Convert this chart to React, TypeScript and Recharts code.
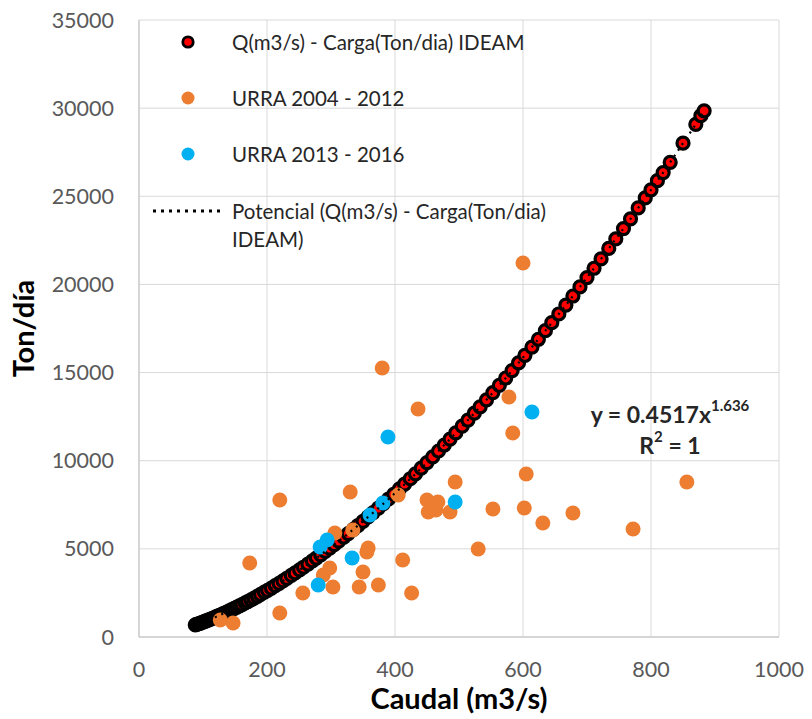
import { ScatterChart, Scatter, XAxis, YAxis, CartesianGrid } from 'recharts'

// Q(m3/s) - Carga(Ton/dia) IDEAM
const ideamQ = [
  88, 90, 92, 95, 97, 100, 103, 105, 108, 111, 114, 117, 120, 123, 126, 130, 133, 137, 141, 145,
  149, 153, 157, 161, 166, 170, 175, 180, 185, 190, 196, 201, 207, 213, 219, 225, 231, 238, 244, 251,
  257, 264, 271, 277, 284, 291, 298, 305, 312, 320, 327, 335, 342, 350, 358, 366, 374, 382, 390, 398,
  407, 415, 424, 432, 441, 450, 459, 468, 477, 486, 495, 505, 514, 524, 533, 543, 553, 563, 573, 583,
  593, 603, 614, 624, 635, 645, 656, 667, 678, 689, 700, 711, 722, 734, 745, 757, 768, 780, 791, 800,
  810, 819, 830, 850, 870, 878, 883,
]
const ideamCarga = [
  686, 712, 738, 777, 804, 845, 886, 915, 958, 1003, 1047, 1093, 1139, 1186, 1234, 1299, 1348, 1415, 1483, 1553,
  1623, 1695, 1767, 1842, 1936, 2013, 2111, 2210, 2311, 2414, 2540, 2647, 2778, 2911, 3046, 3184, 3326, 3493, 3638, 3808,
  3958, 4136, 4318, 4475, 4662, 4852, 5044, 5240, 5434, 5664, 5868, 6106, 6316, 6560, 6810, 7060, 7310, 7568, 7829, 8095,
  8397, 8668, 8978, 9258, 9575, 9897, 10221, 10551, 10891, 11229, 11575, 11960, 12308, 12702, 13052, 13455, 13868, 14280, 14692, 15114,
  15549, 15980, 16449, 16890, 17379, 17828, 18323, 18828, 19343, 19859, 20390, 20917, 21449, 22042, 22585, 23167, 23720, 24342, 24906, 25363,
  25883, 26344, 26926, 28010, 29083, 29570, 29846,
]

// URRA 2004 - 2012
const urraAQ = [
  127, 147, 173, 220, 220, 256, 288, 298, 303, 306, 330, 334, 344, 350, 356, 358, 374, 380, 405, 412,
  426, 436, 450, 452, 464, 467, 486, 494, 530, 553, 578, 584, 600, 602, 605, 631, 678, 772, 856,
]
const urraACarga = [
  964, 794, 4197, 7771, 1361, 2496, 3517, 3914, 2836, 5899, 8225, 6070, 2836, 3687, 4821, 5048, 2950, 15258, 8054, 4368,
  2496, 12933, 7771, 7090, 7204, 7657, 7090, 8792, 4990, 7260, 13613, 11571, 21214, 7317, 9246, 6466, 7034, 6126, 8792,
]

// URRA 2013 - 2016
const urraBQ = [280, 283, 294, 333, 361, 381, 389, 494, 614]
const urraBCarga = [2950, 5105, 5502, 4481, 6920, 7600, 11344, 7657, 12762]

const xTicks = [0, 200, 400, 600, 800, 1000]
const yTicks = [0, 5000, 10000, 15000, 20000, 25000, 30000, 35000]

const toPoints = (xs: number[], ys: number[]) => xs.map((x, i) => ({ x, y: ys[i] }))

const ideam = toPoints(ideamQ, ideamCarga)
const urraA = toPoints(urraAQ, urraACarga)
const urraB = toPoints(urraBQ, urraBCarga)

const FONT = 'Lato, "Open Sans", sans-serif'
const tickStyle = { fontSize: 21.5, fill: '#595959', fontFamily: FONT }
const titleStyle = { fontSize: 29, fontWeight: 700, fill: '#000', fontFamily: FONT }

const IdeamDot = (p: any) => (
  <circle cx={p.cx} cy={p.cy} r={6} fill="#FF0000" stroke="#000" strokeWidth={3.2} />
)
const OrangeDot = (p: any) => <circle cx={p.cx} cy={p.cy} r={7.5} fill="#ED7D31" />
const BlueDot = (p: any) => <circle cx={p.cx} cy={p.cy} r={7.5} fill="#00B0F0" />
const NoDot = () => <g />

const legendRows = [
  { label: 'Q(m3/s) - Carga(Ton/dia) IDEAM', kind: 'ideam', y: 42 },
  { label: 'URRA 2004 - 2012', kind: 'orange', y: 98 },
  { label: 'URRA 2013 - 2016', kind: 'blue', y: 154 },
  { label: 'Potencial (Q(m3/s) - Carga(Ton/dia)', label2: 'IDEAM)', kind: 'trend', y: 211 },
]

function LegendMarker({ kind }: { kind: string }) {
  return (
    <svg width={80} height={28} style={{ position: 'absolute', left: 148, top: 0 }}>
      {kind === 'ideam' && <circle cx={40} cy={14} r={5.2} fill="#FF0000" stroke="#000" strokeWidth={2.8} />}
      {kind === 'orange' && <circle cx={40} cy={14} r={6.5} fill="#ED7D31" />}
      {kind === 'blue' && <circle cx={40} cy={14} r={6.5} fill="#00B0F0" />}
      {kind === 'trend' && (
        <line x1={5} y1={14} x2={73} y2={14} stroke="#000" strokeWidth={3} strokeDasharray="3 5" />
      )}
    </svg>
  )
}

export default function App() {
  return (
    <div style={{ position: 'absolute', left: 0, top: 0, width: 812, height: 719, background: '#fff', fontFamily: FONT }}>
      <ScatterChart width={812} height={719} margin={{ top: 20, right: 33, bottom: 0, left: 0 }}>
        <CartesianGrid stroke="#D9D9D9" strokeWidth={1} />
        <XAxis
          type="number"
          dataKey="x"
          domain={[0, 1000]}
          ticks={xTicks}
          height={82}
          tick={tickStyle}
          tickLine={false}
          tickSize={0}
          tickMargin={25}
          axisLine={{ stroke: '#BFBFBF' }}
          label={{ value: 'Caudal (m3/s)', position: 'insideBottom', offset: 10, style: titleStyle }}
        />
        <YAxis
          type="number"
          dataKey="y"
          domain={[0, 35000]}
          ticks={yTicks}
          width={139}
          tick={tickStyle}
          tickLine={false}
          tickSize={0}
          tickMargin={25}
          axisLine={{ stroke: '#BFBFBF' }}
          label={{
            value: 'Ton/día',
            angle: -90,
            position: 'insideLeft',
            offset: 24,
            style: { ...titleStyle, textAnchor: 'middle' },
          }}
        />
        <Scatter name="Q(m3/s) - Carga(Ton/dia) IDEAM" data={ideam} shape={IdeamDot} isAnimationActive={false} />
        <Scatter name="URRA 2004 - 2012" data={urraA} shape={OrangeDot} isAnimationActive={false} />
        <Scatter name="URRA 2013 - 2016" data={urraB} shape={BlueDot} isAnimationActive={false} />
        <Scatter
          name="Potencial (Q(m3/s) - Carga(Ton/dia) IDEAM)"
          data={ideam}
          shape={NoDot}
          line={{ stroke: '#000', strokeWidth: 2.2, strokeDasharray: '2 5' }}
          lineType="joint"
          isAnimationActive={false}
        />
      </ScatterChart>

      {legendRows.map((r) => (
        <div key={r.kind} style={{ position: 'absolute', left: 0, top: r.y - 14, width: 600 }}>
          <LegendMarker kind={r.kind} />
          <div style={{ position: 'absolute', left: 232, top: 0, fontSize: 20.5, lineHeight: '28px', color: '#262626', whiteSpace: 'nowrap' }}>
            {r.label}
            {r.label2 && <br />}
            {r.label2}
          </div>
        </div>
      ))}

      <div
        style={{
          position: 'absolute',
          left: 570,
          width: 200,
          top: 399,
          textAlign: 'center',
          fontSize: 23,
          fontWeight: 700,
          lineHeight: '31px',
          color: '#262626',
        }}
      >
        <div>
          y = 0.4517x<sup style={{ fontSize: 15, verticalAlign: 'top', lineHeight: '15px', position: 'relative', top: -1 }}>1.636</sup>
        </div>
        <div>
          R<sup style={{ fontSize: 15, verticalAlign: 'top', lineHeight: '15px', position: 'relative', top: -1 }}>2</sup> = 1
        </div>
      </div>
    </div>
  )
}
